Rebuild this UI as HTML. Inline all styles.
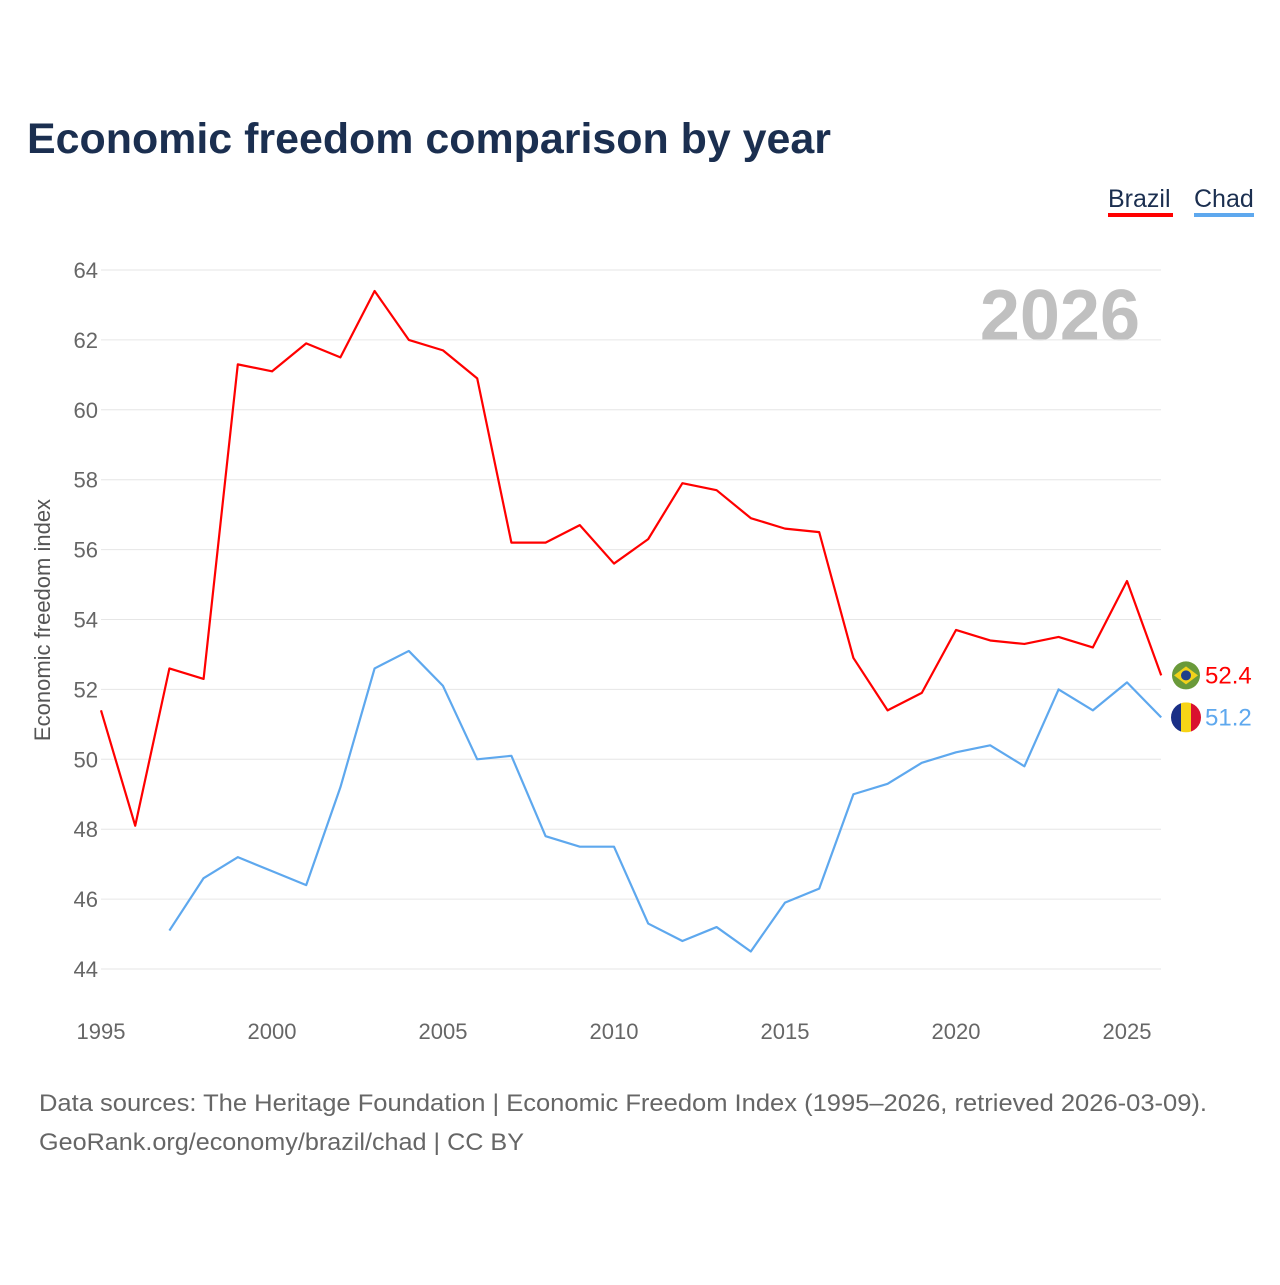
<!DOCTYPE html>
<html><head><meta charset="utf-8"><style>
body{margin:0;background:#fff;font-family:"Liberation Sans",sans-serif}
svg text{font-family:"Liberation Sans",sans-serif}
</style></head><body>
<svg id="chart" width="1280" height="1280">
<text x="27" y="153" font-size="43" font-weight="bold" fill="#1b2f50" textLength="804" lengthAdjust="spacingAndGlyphs">Economic freedom comparison by year</text>
<g>
<text x="1108" y="207" font-size="25" fill="#1b2f50">Brazil</text>
<rect x="1108" y="213" width="65" height="4" fill="#ff0000"/>
<text x="1194" y="207" font-size="25" fill="#1b2f50">Chad</text>
<rect x="1194" y="213" width="60" height="4" fill="#5ea8ee"/>
</g>
<text x="1140" y="340" font-size="72" font-weight="bold" fill="#c0c0c0" text-anchor="end">2026</text>
<text transform="translate(50,620) rotate(-90)" font-size="22" fill="#555" text-anchor="middle">Economic freedom index</text>
<g id="grid"></g><g id="series"></g>
<text x="39" y="1111" font-size="24" fill="#666" textLength="1168" lengthAdjust="spacingAndGlyphs">Data sources: The Heritage Foundation | Economic Freedom Index (1995–2026, retrieved 2026-03-09).</text>
<text x="39" y="1150" font-size="24" fill="#666" textLength="485" lengthAdjust="spacingAndGlyphs">GeoRank.org/economy/brazil/chad | CC BY</text>
</svg>
<script>
const years=[1995,1996,1997,1998,1999,2000,2001,2002,2003,2004,2005,2006,2007,2008,2009,2010,2011,2012,2013,2014,2015,2016,2017,2018,2019,2020,2021,2022,2023,2024,2025,2026];
const brazil=[51.4,48.1,52.6,52.3,61.3,61.1,61.9,61.5,63.4,62.0,61.7,60.9,56.2,56.2,56.7,55.6,56.3,57.9,57.7,56.9,56.6,56.5,52.9,51.4,51.9,53.7,53.4,53.3,53.5,53.2,55.1,52.4];
const chad=[null,null,45.1,46.6,47.2,46.8,46.4,49.2,52.6,53.1,52.1,50.0,50.1,47.8,47.5,47.5,45.3,44.8,45.2,44.5,45.9,46.3,49.0,49.3,49.9,50.2,50.4,49.8,52.0,51.4,52.2,51.2];
const yTicks=[44,46,48,50,52,54,56,58,60,62,64];
const xTicks=[1995,2000,2005,2010,2015,2020,2025];
const NS="http://www.w3.org/2000/svg";
const X=y=>101+(y-1995)*34.2;
const Y=v=>969-(v-44)*34.95;
function mk(t,a,p){const e=document.createElementNS(NS,t);for(const k in a)e.setAttribute(k,a[k]);p.appendChild(e);return e;}
const g=document.getElementById('grid'),s=document.getElementById('series');
yTicks.forEach(v=>{
 const l=mk('line',{x1:101,x2:1161,y1:Y(v),y2:Y(v),stroke:'#e6e6e6','stroke-width':1},g);
 
 
 const t=mk('text',{x:98,y:Y(v)+8,'font-size':22,fill:'#666','text-anchor':'end'},g);t.textContent=v;
 
 
});
xTicks.forEach(v=>{
 const t=mk('text',{x:X(v),y:1039,'font-size':22,fill:'#666','text-anchor':'middle'},g);t.textContent=v;
 
 
});
function line(data,color,name){
 let d='';data.forEach((v,i)=>{if(v==null)return;d+=(d?'L':'M')+X(years[i])+','+Y(v);});
 const p=mk('path',{d:d,fill:'none',stroke:color,'stroke-width':2.2,'stroke-linejoin':'round'},s);
 
 
 const last=data[data.length-1];
 const t=mk('text',{x:1205,y:Y(last)+8,'font-size':24,fill:color},s);t.textContent=last.toFixed(1);
 
 
}
line(brazil,'#ff0000','brazil');
line(chad,'#5ea8ee','chad');
const by=Y(brazil[brazil.length-1]),cy=Y(chad[chad.length-1]);
const f1=mk('g',{},s);


mk('circle',{cx:1186,cy:by,r:14,fill:'#6a9a3a'},f1);
mk('polygon',{points:`1174,${by} 1186,${by-9} 1198,${by} 1186,${by+9}`,fill:'#f2d21b'},f1);
mk('circle',{cx:1186,cy:by,r:5,fill:'#1f3e8a'},f1);
const f2=mk('g',{},s);


mk('clipPath',{id:'cc'},f2);
mk('circle',{cx:1186,cy:cy,r:15},f2.lastChild);
const gg=mk('g',{'clip-path':'url(#cc)'},f2);
mk('rect',{x:1171,y:cy-15,width:10,height:30,fill:'#1a2f86'},gg);
mk('rect',{x:1181,y:cy-15,width:10,height:30,fill:'#f7d417'},gg);
mk('rect',{x:1191,y:cy-15,width:10,height:30,fill:'#d9112f'},gg);
</script>
</body></html>
